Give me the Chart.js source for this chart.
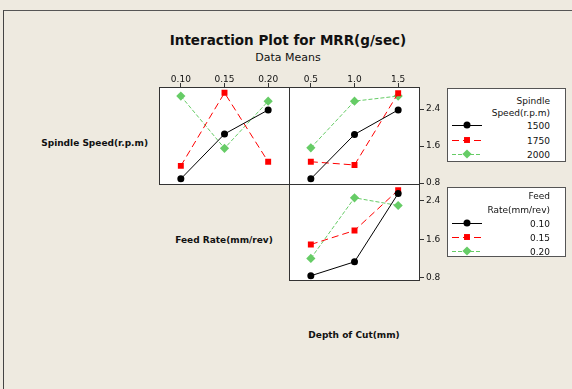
<!DOCTYPE html>
<html>
<head>
<meta charset="utf-8">
<script src="https://cdn.jsdelivr.net/npm/chart.js@4.4.1/dist/chart.umd.min.js"></script>
<style>
  body { margin: 0; width: 572px; height: 389px; background: #eeeae0; position: relative; overflow: hidden; font-family: "DejaVu Sans", sans-serif; color: #111; }
  .frame { position: absolute; left: 3px; top: 10px; right: -2px; bottom: -2px; border-left: 1px solid #444; border-top: 1px solid #555; }
  .txt { position: absolute; white-space: nowrap; transform: translateY(-50%); line-height: 1; }
  .c { transform: translate(-50%, -50%); }
  .r { transform: translate(-100%, -50%); }
  .b { font-weight: bold; }
  canvas.panel { position: absolute; }
  .legend { position: absolute; background: #fff; border: 1px solid #555; box-sizing: border-box; }
</style>
</head>
<body>
<div class="frame"></div>

<div class="txt c b" style="left:288px; top:41px; font-size:13.5px;">Interaction Plot for MRR(g/sec)</div>
<div class="txt c" style="left:288px; top:57px; font-size:11px;">Data Means</div>
<div class="txt r b" style="left:148px; top:143px; font-size:9px;">Spindle Speed(r.p.m)</div>
<div class="txt c b" style="left:224px; top:240px; font-size:9px;">Feed Rate(mm/rev)</div>
<div class="txt c b" style="left:354px; top:335px; font-size:9px;">Depth of Cut(mm)</div>

<canvas id="p1" class="panel" width="131" height="117" style="left:159px; top:68px;"></canvas>
<canvas id="p2" class="panel" width="165" height="117" style="left:289px; top:68px;"></canvas>
<canvas id="p3" class="panel" width="165" height="97" style="left:289px; top:184px;"></canvas>

<div id="legends"></div>

<script>
// levels
const feedRates = ["0.10", "0.15", "0.20"];
const depths = ["0.5", "1.0", "1.5"];
const speeds = ["1500", "1750", "2000"];
const yTicks = [0.8, 1.6, 2.4];

// MRR means, spindle speed traces over feed rate
const speedFeed1500 = [0.89, 1.86, 2.38];
const speedFeed1750 = [1.17, 2.75, 1.26];
const speedFeed2000 = [2.68, 1.55, 2.57];

// spindle speed traces over depth of cut
const speedDepth1500 = [0.89, 1.85, 2.38];
const speedDepth1750 = [1.26, 1.19, 2.74];
const speedDepth2000 = [1.56, 2.57, 2.68];

// feed rate traces over depth of cut
const feedDepth010 = [0.84, 1.13, 2.55];
const feedDepth015 = [1.49, 1.78, 2.62];
const feedDepth020 = [1.20, 2.46, 2.30];

const styles = [
    { color: "#000000", dash: [], point: "circle", radius: 3.5 },
    { color: "#ff0000", dash: [7, 4], point: "rect", radius: 4.2 },
    { color: "#66cc66", dash: [4, 2], point: "rectRot", radius: 4.6 }
];

function makeDataset(label, values, i) {
    const s = styles[i];
    return {
        label: label,
        data: values,
        borderColor: s.color,
        backgroundColor: s.color,
        borderWidth: 1,
        borderDash: s.dash,
        pointStyle: s.point,
        pointRadius: s.radius,
        pointBorderWidth: 0,
        tension: 0
    };
}

// white panel with a thin dark frame
const panelFrame = {
    id: "panelFrame",
    beforeDatasetsDraw(chart) {
        const a = chart.chartArea;
        const ctx = chart.ctx;
        ctx.save();
        ctx.fillStyle = "#ffffff";
        ctx.fillRect(a.left, a.top, a.right - a.left, a.bottom - a.top);
        ctx.restore();
    },
    afterDraw(chart) {
        const a = chart.chartArea;
        const ctx = chart.ctx;
        ctx.save();
        ctx.strokeStyle = "#333";
        ctx.lineWidth = 1;
        ctx.strokeRect(a.left + 0.5, a.top + 0.5, a.right - a.left - 1, a.bottom - a.top - 1);
        ctx.restore();
    }
};

const tickFont = { family: "DejaVu Sans", size: 9 };

function makePanel(id, labels, datasets, opt) {
    new Chart(document.getElementById(id), {
        type: "line",
        data: { labels: labels, datasets: datasets },
        plugins: [panelFrame],
        options: {
            responsive: false,
            animation: false,
            devicePixelRatio: 1,
            layout: { padding: 0, autoPadding: false },
            plugins: { legend: { display: false }, tooltip: { enabled: false } },
            scales: {
                x: {
                    type: "category",
                    offset: true,
                    position: "top",
                    display: opt.showX,
                    grid: { offset: false, drawOnChartArea: false, tickLength: 4, color: "#333" },
                    border: { display: false },
                    ticks: { font: tickFont, color: "#111", padding: -2, maxRotation: 0, autoSkip: false },
                    afterFit: s => {
                        s.height = opt.showX ? 19 : 0;
                        s.paddingLeft = 0; s.paddingRight = 0;
                    }
                },
                y: {
                    type: "linear",
                    position: "right",
                    display: opt.showY,
                    min: opt.min,
                    max: opt.max,
                    grid: { drawOnChartArea: false, tickLength: 4, color: "#333" },
                    border: { display: false },
                    afterBuildTicks: s => { s.ticks = yTicks.map(v => ({ value: v })); },
                    ticks: { font: tickFont, color: "#111", padding: 2, callback: v => v.toFixed(1) },
                    afterFit: s => {
                        s.width = opt.showY ? 34 : 0;
                        s.paddingTop = 0; s.paddingBottom = 0;
                    }
                }
            }
        }
    });
}

makePanel("p1", feedRates, [
    makeDataset(speeds[0], speedFeed1500, 0),
    makeDataset(speeds[1], speedFeed1750, 1),
    makeDataset(speeds[2], speedFeed2000, 2)
], { showX: true, showY: false, min: 0.757, max: 2.876 });

makePanel("p2", depths, [
    makeDataset(speeds[0], speedDepth1500, 0),
    makeDataset(speeds[1], speedDepth1750, 1),
    makeDataset(speeds[2], speedDepth2000, 2)
], { showX: true, showY: true, min: 0.757, max: 2.876 });

makePanel("p3", depths, [
    makeDataset(feedRates[0], feedDepth010, 0),
    makeDataset(feedRates[1], feedDepth015, 1),
    makeDataset(feedRates[2], feedDepth020, 2)
], { showX: false, showY: true, min: 0.731, max: 2.747 });

// legends: title lines and entries drawn by hand
function drawLegend(box, titles, titleY, names, rowY) {
    const holder = document.getElementById("legends");
    const div = document.createElement("div");
    div.className = "legend";
    div.style.left = box[0] + "px";
    div.style.top = box[1] + "px";
    div.style.width = box[2] + "px";
    div.style.height = box[3] + "px";
    holder.appendChild(div);

    const textRight = 550;
    titles.forEach((t, i) => {
        const el = document.createElement("div");
        el.className = "txt r";
        el.style.cssText = `left:${textRight}px; top:${titleY[i]}px; font-size:9px;`;
        el.textContent = t;
        holder.appendChild(el);
    });

    names.forEach((n, i) => {
        const el = document.createElement("div");
        el.className = "txt r";
        el.style.cssText = `left:${textRight}px; top:${rowY[i] + 1}px; font-size:9px;`;
        el.textContent = n;
        holder.appendChild(el);

        const cv = document.createElement("canvas");
        cv.width = 34; cv.height = 12;
        cv.style.cssText = `position:absolute; left:450px; top:${rowY[i] - 6}px;`;
        holder.appendChild(cv);
        const ctx = cv.getContext("2d");
        const s = styles[i];
        ctx.strokeStyle = s.color;
        ctx.fillStyle = s.color;
        ctx.lineWidth = 1;
        ctx.setLineDash(s.dash);
        ctx.beginPath();
        ctx.moveTo(2, 6.5);
        ctx.lineTo(32, 6.5);
        ctx.stroke();
        ctx.setLineDash([]);
        ctx.beginPath();
        const cx = 17, cy = 6;
        if (s.point === "circle") {
            ctx.arc(cx, cy, s.radius, 0, Math.PI * 2);
        } else if (s.point === "rect") {
            const h = s.radius * Math.SQRT1_2;
            ctx.rect(cx - h, cy - h, 2 * h, 2 * h);
        } else {
            const r = s.radius;
            ctx.moveTo(cx, cy - r); ctx.lineTo(cx + r, cy); ctx.lineTo(cx, cy + r); ctx.lineTo(cx - r, cy); ctx.closePath();
        }
        ctx.fill();
    });
}

drawLegend([447, 88, 119, 74], ["Spindle", "Speed(r.p.m)"], [101, 113], speeds, [125, 140, 154]);
drawLegend([447, 187, 119, 70], ["Feed", "Rate(mm/rev)"], [196, 210], feedRates, [223, 237, 251]);
</script>
</body>
</html>
